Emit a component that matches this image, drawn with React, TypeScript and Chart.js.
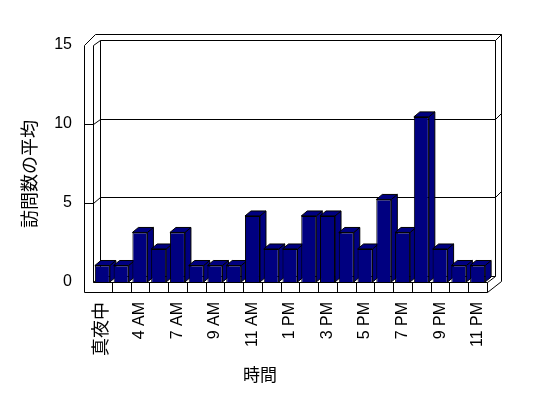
import React, { useEffect, useRef } from "react";
import { Chart, registerables } from "chart.js";

Chart.register(...registerables);

// ---- data ----
const hours = [
  "真夜中", "2 AM", "4 AM", "6 AM", "7 AM", "8 AM", "9 AM", "10 AM", "11 AM", "正午",
  "1 PM", "2 PM", "3 PM", "4 PM", "5 PM", "6 PM", "7 PM", "8 PM", "9 PM", "10 PM", "11 PM",
];
const visits = [1, 1, 3, 2, 3, 1, 1, 1, 4, 2, 2, 4, 4, 3, 2, 5, 3, 10, 2, 1, 1];
const yTicks = [0, 5, 10, 15];
const xTitle = "時間";
const yTitle = "訪問数の平均";

// ---- styles ----
const NAVY = "#000080";
const LATIN = '"Liberation Sans", Arial, "Noto Sans CJK JP", sans-serif';
const CJK = '"Noto Sans CJK JP", "Noto Sans CJK SC", sans-serif';
const Y_MAX = 15;
const PERSPECTIVE = 1.045; // bars (front) appear slightly larger than the wall scale

const framePlugin = {
  id: "frame3d",
  beforeDatasetsDraw(chart: any) {
    const { ctx, chartArea: ca, scales } = chart;
    const ys = scales.y;
    const L = Math.round(ca.left);
    const R = Math.round(ca.right);
    const T = Math.round(ca.top);
    const B = Math.round(ca.bottom);
    const OL = L - 9; // outer front edge of left wall
    const FB = B + 10; // floor front bottom
    const BL = L + 7; // back wall left
    const BR = R + 8; // back wall right
    const FBack = B - 6; // floor back line
    const OR = BR + 6; // outer right
    const back = (v: number) => Math.round(FBack + (ys.getPixelForValue(v) - B) * ((FBack - (T - 5)) / (B - T)));
    const BT = back(Y_MAX);
    const OT = BT - 6;

    ctx.save();
    ctx.strokeStyle = "#000";
    ctx.lineWidth = 1;
    ctx.beginPath();
    const seg = (x1: number, y1: number, x2: number, y2: number) => {
      ctx.moveTo(x1 + 0.5, y1 + 0.5);
      ctx.lineTo(x2 + 0.5, y2 + 0.5);
    };
    // left wall + floor front face
    seg(OL, T, OL, FB);
    seg(OL, FB, R, FB);
    seg(R, FB, R, B);
    seg(L, T, L, B);
    seg(L, B, R, B);
    // top edges
    seg(OL, T, OL + 11, OT);
    seg(OL + 11, OT, OR, OT);
    seg(L, T, BL, BT);
    seg(BL, BT, BR, BT);
    seg(BR, BT, OR, OT);
    // verticals
    seg(BL, BT, BL, FBack);
    seg(BR, BT, BR, FBack);
    seg(OR, OT, OR, FB - 11);
    // floor sides
    seg(R, B, BR, FBack);
    seg(R, FB, OR, FB - 11);
    // gridlines
    yTicks.forEach((v) => {
      if (v >= Y_MAX) return;
      const yf = Math.round(ys.getPixelForValue(v));
      const yb = back(v);
      if (v > 0) seg(OL, yf, L, yf);
      seg(L, yf, BL, yb);
      seg(BL, yb, BR, yb);
      if (v > 0) seg(BR, yb, OR, yb - 6);
    });
    // category dividers on the floor front
    const n = hours.length;
    for (let k = 1; k < n; k++) {
      const x = Math.round(L + (k * (R - L)) / n);
      seg(x, B, x, FB);
    }
    ctx.stroke();

    // bar side & top faces (behind the front faces drawn by Chart.js)
    const dx = 6, dy = -5;
    const meta = chart.getDatasetMeta(0);
    ctx.fillStyle = NAVY;
    meta.data.forEach((bar: any) => {
      const { x, y, base, width } = bar.getProps(["x", "y", "base", "width"], true);
      const l = x - width / 2;
      const r = x + width / 2;
      // side
      ctx.beginPath();
      ctx.moveTo(r, y);
      ctx.lineTo(r + dx, y + dy);
      ctx.lineTo(r + dx, base + dy);
      ctx.lineTo(r, base);
      ctx.closePath();
      ctx.fill();
      ctx.stroke();
      // top
      ctx.beginPath();
      ctx.moveTo(l, y);
      ctx.lineTo(l + dx, y + dy);
      ctx.lineTo(r + dx, y + dy);
      ctx.lineTo(r, y);
      ctx.closePath();
      ctx.fill();
      ctx.stroke();
    });
    ctx.restore();
  },
};

const titlePlugin = {
  id: "axisTitles",
  afterDraw(chart: any) {
    const { ctx } = chart;
    ctx.save();
    ctx.fillStyle = "#000";
    ctx.textAlign = "center";
    ctx.textBaseline = "middle";
    ctx.font = `18px ${CJK}`;
    ctx.translate(29, 174);
    ctx.rotate(-Math.PI / 2);
    ctx.fillText(yTitle, 0, 0);
    ctx.restore();
    ctx.save();
    ctx.fillStyle = "#000";
    ctx.textAlign = "center";
    ctx.textBaseline = "middle";
    ctx.font = `17px ${CJK}`;
    ctx.fillText(xTitle, 260, 375);
    ctx.restore();
  },
};

export default function App() {
  const ref = useRef<HTMLCanvasElement>(null);
  useEffect(() => {
    const chart = new Chart(ref.current as HTMLCanvasElement, {
      type: "bar",
      data: {
        labels: hours,
        datasets: [
          {
            data: visits,
            yAxisID: "yb",
            backgroundColor: NAVY,
            borderColor: "#000",
            borderWidth: 1,
            barPercentage: 0.8,
            categoryPercentage: 1,
          },
        ],
      },
      options: {
        responsive: false,
        animation: false,
        devicePixelRatio: 1,
        layout: { padding: { top: 45, right: 61, left: 0, bottom: 0 } },
        plugins: { legend: { display: false }, tooltip: { enabled: false } },
        scales: {
          x: {
            grid: { display: false, drawTicks: false },
            border: { display: false },
            ticks: {
              autoSkip: false,
              minRotation: 90,
              maxRotation: 90,
              padding: 20,
              color: "#000",
              font: (c: any) => ({ family: LATIN, size: c.index === 0 ? 18 : 16 }),
              callback: (_v: any, i: number) => (i % 2 === 0 ? hours[i] : ""),
            },
            afterFit: (s: any) => {
              s.height = 116;
            },
          },
          y: {
            position: "left",
            min: 0,
            max: Y_MAX,
            ticks: { stepSize: 5, padding: 21, color: "#000", font: { family: LATIN, size: 16 } },
            grid: { display: false, drawTicks: false },
            border: { display: false },
            afterFit: (s: any) => {
              s.width = 93;
            },
          },
          yb: { display: false, position: "left", min: 0, max: Y_MAX / PERSPECTIVE },
        },
      } as any,
      plugins: [framePlugin, titlePlugin],
    });
    return () => chart.destroy();
  }, []);
  return (
    <div style={{ position: "absolute", left: 0, top: 0, width: 548, height: 398, background: "#fff" }}>
      <canvas ref={ref} width={548} height={398} style={{ display: "block" }} />
    </div>
  );
}
